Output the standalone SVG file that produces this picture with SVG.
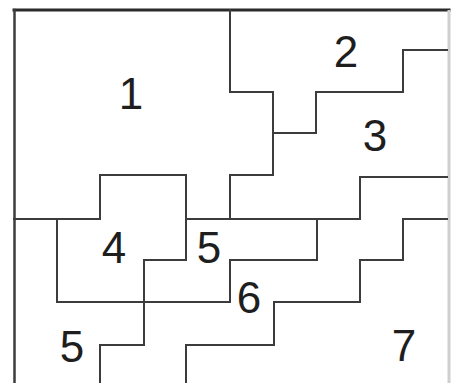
<svg xmlns="http://www.w3.org/2000/svg" width="460" height="383" viewBox="0 0 460 383">
<style>
.ln{fill:none;stroke:#3c3c3c;stroke-width:2;stroke-linejoin:miter;stroke-linecap:square}
.lbl{font-family:"Liberation Sans",Arial,sans-serif;font-size:44px;fill:#1e1e1e;text-anchor:middle}
</style>
<rect width="460" height="383" fill="#ffffff"/>
<g id="connectors">
<line x1="14" y1="10" x2="449" y2="10" class="ln" style="stroke-width:3;stroke:#2a2a2a"/>
<line x1="14.5" y1="10" x2="14.5" y2="383" class="ln" style="stroke-width:2.5"/>
<line x1="449" y1="10" x2="449" y2="383" style="stroke:#cfcfcf;stroke-width:3"/>
<polyline class="ln" points="14,219 100,219 100,175 186,175 186,260 144,260 144,345 100,345 100,384"/>
<polyline class="ln" points="57,219 57,302 230,302 230,260 317,260 317,219"/>
<polyline class="ln" points="186,219 360,219 360,177 447,177"/>
<polyline class="ln" points="230,10 230,92 273,92 273,175 230,175 230,219"/>
<polyline class="ln" points="273,133 316,133 316,92 403,92 403,50 447,50"/>
<polyline class="ln" points="186,384 186,345 274,345 274,302 360,302 360,260 403,260 403,219 447,219"/>
</g>
<g id="region-1"><text class="lbl" x="131" y="109">1</text></g>
<g id="region-2"><text class="lbl" x="346" y="67">2</text></g>
<g id="region-3"><text class="lbl" x="375" y="151">3</text></g>
<g id="region-4"><text class="lbl" x="114" y="263">4</text></g>
<g id="region-5a"><text class="lbl" x="209" y="263">5</text></g>
<g id="region-6"><text class="lbl" x="249" y="313">6</text></g>
<g id="region-5b"><text class="lbl" x="72" y="362">5</text></g>
<g id="region-7"><text class="lbl" x="404" y="361">7</text></g>
</svg>
